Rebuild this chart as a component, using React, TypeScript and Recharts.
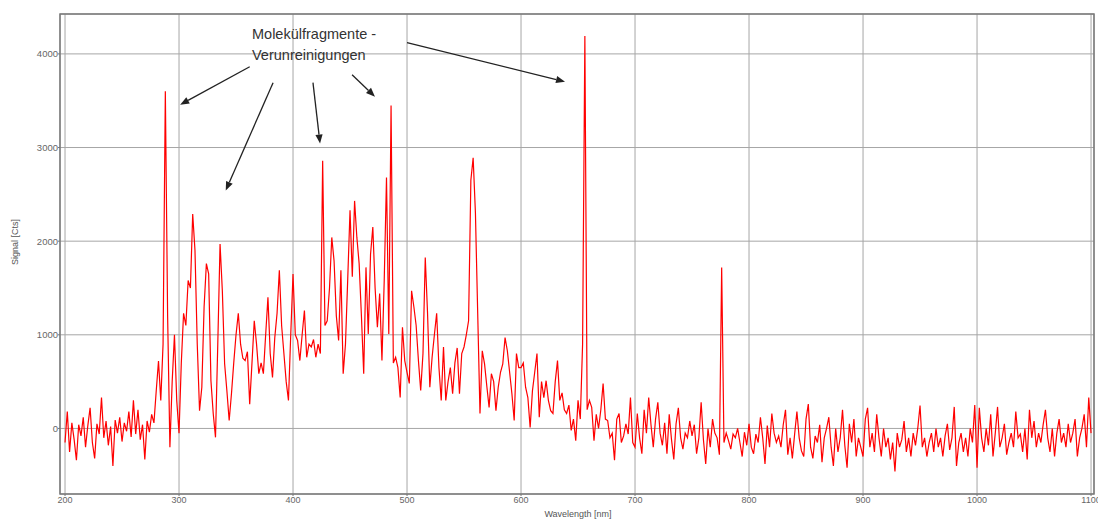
import { LineChart, Line, XAxis, YAxis, CartesianGrid, ReferenceLine, ReferenceArea } from 'recharts'

// spectrum, one value every 2 nm
const signal200 = [
  -150, 180, -250, 60, -120, -340, 40, -80, 120, -200,
  30, 220, -150, -320, 50, -60, 330, -100, 80, -180,
  20, -400, 90, -50, 120, -140, 60, -30, 180, -90,
  300, -60, 200, -120, 40, -330, 80, -40, 150, 60,
  400, 720, 300, 900, 3600, 1200, -200, 500, 1000, 300,
]
const signal300 = [
  -50, 700, 1230, 1100, 1580, 1500, 2290, 1900, 900, 190,
  440, 1300, 1760, 1650, 510, 160, -95, 900, 1970, 1470,
  690, 400, 85, 370, 700, 1000, 1230, 900, 750, 725,
  820, 260, 700, 1150, 900, 585, 700, 585, 1000, 1400,
  800, 545, 970, 1230, 1690, 1100, 800, 500, 300, 1000,
]
const signal400 = [
  1650, 1000, 940, 725, 1000, 1260, 760, 900, 870, 950,
  760, 900, 800, 2860, 1100, 1150, 1500, 2040, 1790, 1200,
  940, 1690, 585, 900, 1600, 2330, 1620, 2430, 2040, 1760,
  1200, 585, 1720, 1010, 1860, 2150, 1500, 1080, 1440, 725,
  1580, 2680, 1010, 3450, 700, 760, 650, 330, 1080, 725,
]
const signal500 = [
  600, 480, 1470, 1300, 1100, 725, 405, 800, 1825, 1230,
  440, 760, 1000, 1230, 650, 300, 870, 300, 500, 650,
  370, 700, 860, 370, 800, 870, 1000, 1150, 2650, 2890,
  2300, 1230, 160, 830, 690, 450, 225, 585, 500, 190,
  440, 600, 690, 970, 830, 600, 370, 85, 800, 650,
]
const signal600 = [
  650, 700, 440, 330, 10, 400, 600, 800, 120, 500,
  330, 510, 300, 190, 160, 500, 725, 300, 380, 200,
  160, 250, -20, 100, -130, 300, 100, 900, 4190, 200,
  300, 225, -130, 150, 0, 200, 480, 100, 85, -100,
  -50, -340, 100, 160, -150, -80, 50, -60, 330, -150,
]
const signal700 = [
  -200, 160, -100, -270, 200, -50, 330, 40, -200, 100,
  280, -50, -180, 60, -270, 150, -120, -330, 50, 220,
  -100, -220, -50, -100, 80, -80, 40, -270, -100, 280,
  -120, -380, 0, -200, 100, -50, -100, -280, 1720, -150,
  -50, -130, -220, -60, -100, 0, -150, -300, -40, -180,
]
const signal800 = [
  50, -200, -270, -60, -150, 120, -100, -380, 30, -200,
  160, -50, -150, -80, -200, 40, 200, -280, -100, -320,
  -60, 180, -100, -240, -300, 100, 260, -200, -320, -80,
  -150, 40, -360, -100, 0, 120, -200, -400, 0, -250,
  -100, 200, -180, -420, 50, -150, 100, -300, -100, -200,
]
const signal900 = [
  -300, 100, 220, -200, -50, -250, 150, -100, -300, 0,
  -200, -100, -330, -150, -460, -50, -200, -120, 80, -250,
  -100, -300, -50, -180, 0, 245, -200, -100, -300, -150,
  -50, -250, 0, -200, -100, -300, -80, 50, -230, -100,
  230, -400, -150, -50, -250, -100, -300, 0, -150, 250,
]
const signal1000 = [
  -420, 220, -100, -250, 0, -180, 150, -300, -50, 230,
  -200, -100, 50, -280, -150, -50, -200, 180, -100, -60,
  -250, 0, -330, 200, -100, 80, -200, -50, -150, 40,
  200, -100, -250, 0, -300, -50, 100, -150, -50, -200,
  50, -150, -50, 100, -300, -100, 0, 150, -200, 330,
  -50,
]

const startNm = 200
const stepNm = 2

const xTicks = [200, 300, 400, 500, 600, 700, 800, 900, 1000, 1100]
const yTicks = [0, 1000, 2000, 3000, 4000]
const xDomain: [number, number] = [195.6, 1102.6]
const yDomain: [number, number] = [-700, 4426]

// annotation arrows, [nm, counts] from -> to
const arrows = [
  { from: [362, 3863], to: [301, 3458] },
  { from: [382.5, 3693], to: [341, 2540] },
  { from: [417.5, 3693], to: [423.7, 3042] },
  { from: [451.8, 3778], to: [471.9, 3543] },
  { from: [500, 4120], to: [638.6, 3703] },
]

const signal = [
  ...signal200, ...signal300, ...signal400, ...signal500, ...signal600,
  ...signal700, ...signal800, ...signal900, ...signal1000,
]
const data = signal.map((s, i) => ({ nm: startNm + i * stepNm, signal: s }))

const Arrow = (props: any) => {
  const { x1, y1, x2, y2 } = props
  const a = Math.atan2(y2 - y1, x2 - x1)
  const len = 9
  const w = 3.6
  const bx = x2 - len * Math.cos(a)
  const by = y2 - len * Math.sin(a)
  const pts = `${x2},${y2} ${bx + w * Math.sin(a)},${by - w * Math.cos(a)} ${bx - w * Math.sin(a)},${by + w * Math.cos(a)}`
  return (
    <g>
      <line x1={x1} y1={y1} x2={bx} y2={by} stroke="#222" strokeWidth={1.3} />
      <polygon points={pts} fill="#222" />
    </g>
  )
}

const font = 'Arial, "Liberation Sans", sans-serif'

export default function App() {
  return (
    <div style={{ position: 'absolute', left: 0, top: 0, width: 1098, height: 520, background: '#fff', fontFamily: font }}>
      <LineChart width={1098} height={520} data={data} margin={{ top: 14, right: 4, left: 0, bottom: 0 }}>
        <CartesianGrid stroke="#a6a6a6" strokeWidth={1} />
        <XAxis
          dataKey="nm"
          type="number"
          domain={xDomain}
          ticks={xTicks}
          interval={0}
          allowDataOverflow
          height={26}
          axisLine={false}
          tickSize={2}
          tickMargin={1}
          tickLine={{ stroke: '#777' }}
          tick={{ fill: '#666', fontSize: 9, fontFamily: font }}
        />
        <YAxis
          type="number"
          domain={yDomain}
          ticks={yTicks}
          interval={0}
          allowDataOverflow
          width={60}
          axisLine={false}
          tickSize={2}
          tickMargin={0}
          tickLine={{ stroke: '#777' }}
          tick={{ fill: '#666', fontSize: 9.5, fontFamily: font }}
        />
        <ReferenceArea x1={xDomain[0]} x2={xDomain[1]} y1={yDomain[0]} y2={yDomain[1]} fill="none" stroke="#7a7a7a" strokeWidth={1.5} ifOverflow="visible" />
        <Line type="linear" dataKey="signal" stroke="#ff0000" strokeWidth={1.2} dot={false} isAnimationActive={false} />
        {arrows.map((ar, i) => (
          <ReferenceLine
            key={i}
            segment={[{ x: ar.from[0], y: ar.from[1] }, { x: ar.to[0], y: ar.to[1] }]}
            shape={Arrow}
            ifOverflow="visible"
          />
        ))}
      </LineChart>
      <div style={{ position: 'absolute', left: 252, top: 24, fontSize: 14.5, lineHeight: '21px', color: '#333', whiteSpace: 'pre' }}>
        {'Molekülfragmente -\nVerunreinigungen'}
      </div>
      <div style={{ position: 'absolute', left: 578, top: 514, transform: 'translate(-50%, -50%)', fontSize: 9, color: '#555', whiteSpace: 'nowrap' }}>
        Wavelength [nm]
      </div>
      <div style={{ position: 'absolute', left: 15, top: 242, transform: 'translate(-50%, -50%) rotate(-90deg)', fontSize: 9, color: '#555', whiteSpace: 'nowrap' }}>
        Signal [Cts]
      </div>
    </div>
  )
}
